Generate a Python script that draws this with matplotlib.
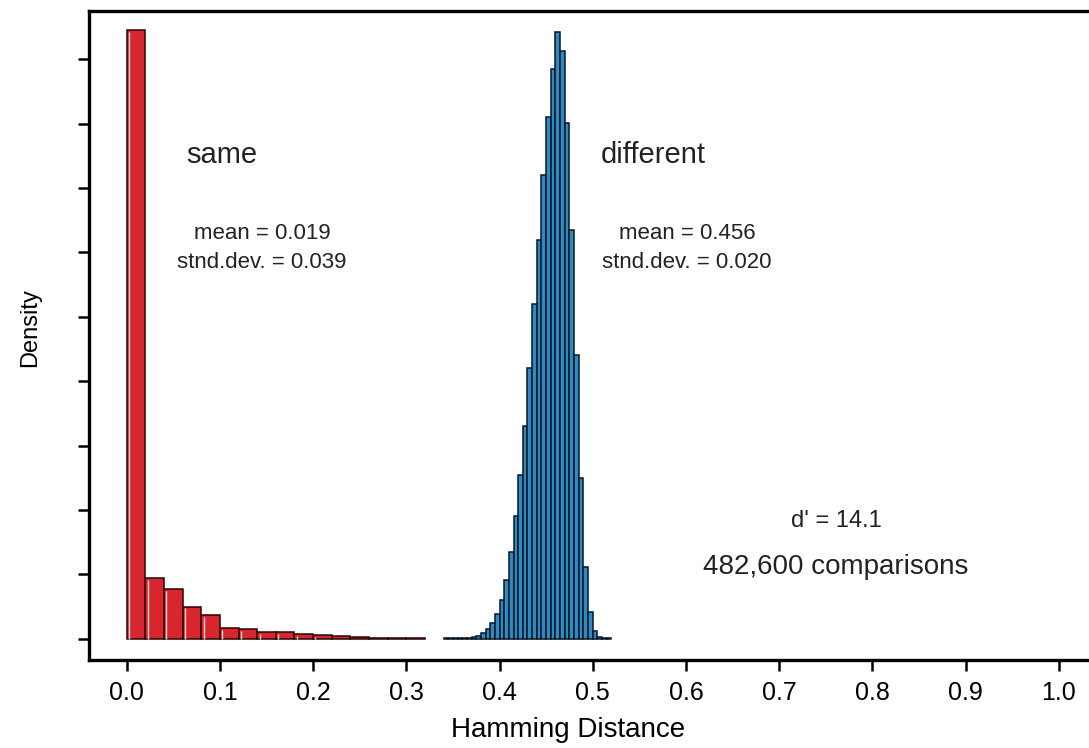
import numpy as np
import matplotlib
matplotlib.use("Agg")
import matplotlib.pyplot as plt

plt.rcParams['font.family'] = ['Liberation Sans', 'DejaVu Sans']

# histogram of hamming distances, "same" eye vs "different" eyes
red_start = 0.0
red_width = 0.02
red_heights = [9.46, 0.94, 0.77, 0.50, 0.37, 0.17, 0.15, 0.10,
               0.10, 0.07, 0.06, 0.045, 0.03, 0.015, 0.01, 0.01]

blue_start = 0.34
blue_width = 0.005
blue_heights = [0.01, 0.01, 0.01, 0.01, 0.01, 0.015, 0.03, 0.05,
                0.09, 0.15, 0.24, 0.38, 0.60, 0.92, 1.35, 1.90,
                2.55, 3.30, 4.20, 5.20, 6.20, 7.20, 8.10, 8.85,
                9.42, 9.13, 8.01, 6.35, 4.41, 2.49, 1.12, 0.41,
                0.12, 0.02, 0.01, 0.01]

x_ticks = [0.0, 0.1, 0.2, 0.3, 0.4, 0.5, 0.6, 0.7, 0.8, 0.9, 1.0]
x_tick_labels = ['0.0', '0.1', '0.2', '0.3', '0.4', '0.5', '0.6', '0.7', '0.8', '0.9', '1.0']
y_ticks = [0, 1, 2, 3, 4, 5, 6, 7, 8, 9]

same_stats = ['mean = 0.019', 'stnd.dev. = 0.039']
diff_stats = ['mean = 0.456', 'stnd.dev. = 0.020']
d_prime = "d' = 14.1"
n_comparisons = '482,600 comparisons'

fig = plt.figure(figsize=(10.89, 7.48), dpi=100)
ax = fig.add_axes([89.4 / 1089, 88 / 748, 1016 / 1089, 649 / 748])

red_x = red_start + red_width * np.arange(len(red_heights))
blue_x = blue_start + blue_width * np.arange(len(blue_heights))

ax.bar(red_x, red_heights, width=red_width, align='edge',
       color='#d7262e', edgecolor='#2a0505', linewidth=1.1)
# thin light line on the left side of each red bar, like the original print
big = np.array(red_heights) > 0.05
ax.vlines(red_x[big] + 0.0025, 0, np.array(red_heights)[big] - 0.03,
          color='#f6d6d6', linewidth=1.0)
ax.bar(blue_x, blue_heights, width=blue_width, align='edge',
       color='#2c8ac4', edgecolor='#0a1620', linewidth=1.1)

ax.set_xlim(-0.04, 1.05)
ax.set_ylim(-0.33, 9.75)

ax.set_xticks(x_ticks)
ax.set_xticklabels(x_tick_labels, fontsize=18)
ax.set_yticks(y_ticks)
ax.set_yticklabels([])
ax.tick_params(axis='x', length=8, width=1.8, pad=7, direction='out')
ax.tick_params(axis='y', length=8, width=1.8, direction='out')

for s in ax.spines.values():
    s.set_linewidth(2.4)
ax.spines['right'].set_visible(False)

ax.set_xlabel('Hamming Distance', fontsize=20)
ax.xaxis.label.set_va('center')
ax.xaxis.set_label_coords(0.471, -0.108)
ax.set_ylabel('Density', fontsize=17)
ax.yaxis.label.set_va('center')
ax.yaxis.set_label_coords(-0.058, 0.513)

ax.text(0.102, 7.52, 'same', fontsize=21, ha='center', va='center', color='#222222')
ax.text(0.565, 7.52, 'different', fontsize=21, ha='center', va='center', color='#222222')
ax.text(0.145, 6.30, same_stats[0], fontsize=16, ha='center', va='center', color='#222222')
ax.text(0.145, 5.85, same_stats[1], fontsize=16, ha='center', va='center', color='#222222')
ax.text(0.601, 6.30, diff_stats[0], fontsize=16, ha='center', va='center', color='#222222')
ax.text(0.601, 5.85, diff_stats[1], fontsize=16, ha='center', va='center', color='#222222')
ax.text(0.761, 1.83, d_prime, fontsize=17, ha='center', va='center', color='#222222')
ax.text(0.761, 1.12, n_comparisons, fontsize=20, ha='center', va='center', color='#222222')

fig.savefig('out.png', dpi=100)
